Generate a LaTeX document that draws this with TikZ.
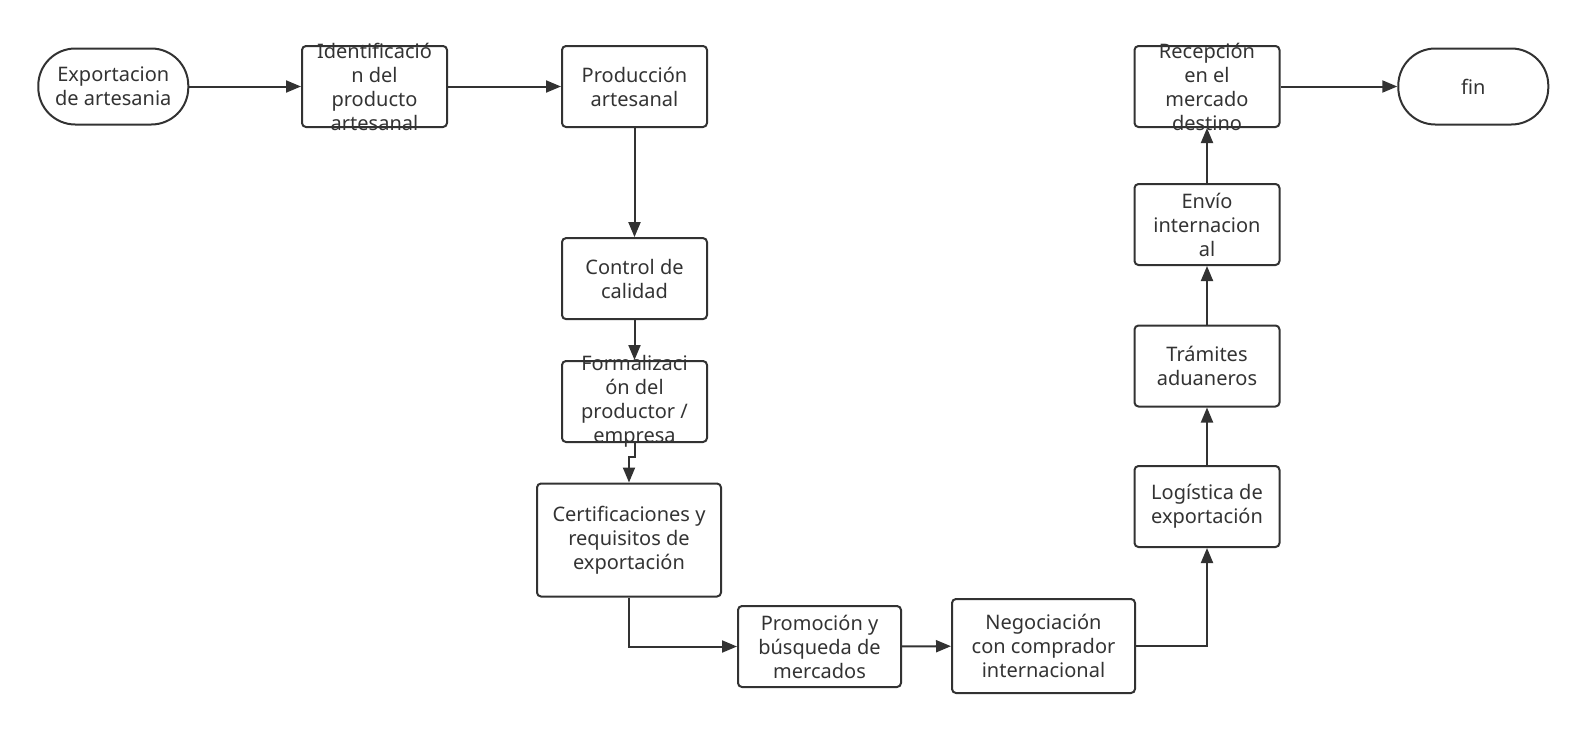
\documentclass[tikz,border=0pt]{standalone}
\usepackage{fontspec}
\setmainfont{Noto Sans}
\usepackage{xcolor}
\definecolor{flowLine}{HTML}{323232}
\definecolor{flowText}{HTML}{333333}
\usetikzlibrary{arrows.meta}

\tikzset{
  stepbox/.style={draw=flowLine, line width=1pt, rounded corners=2pt, minimum width=72.5pt, minimum height=40.5pt, inner sep=0pt},
  term/.style={draw=flowLine, line width=1pt, rounded corners=18.5pt, minimum width=75pt, minimum height=38pt, inner sep=0pt},
  txt/.style={align=center, text=flowText, font=\fontsize{10pt}{12pt}\selectfont, inner sep=0pt},
  flow/.style={draw=flowLine, line width=1pt, -{Triangle[length=7.5pt, width=6pt]}}
}

\begin{document}
\begin{tikzpicture}[x=0.5pt, y=-0.5pt]
  \useasboundingbox (0,0) rectangle (1586,729);
  \node[term, label={[txt]center:Exportacion\\de artesania}] (start) at (113.3,86.5) {};
  \node[stepbox, label={[txt]center:Identificació\\n del\\producto\\artesanal}] (ident) at (374.5,86.5) {};
  \node[stepbox, label={[txt]center:Producción\\artesanal}] (prod) at (634.5,86.5) {};
  \node[stepbox, label={[txt]center:Control de\\calidad}] (ctrl) at (634.5,278.6) {};
  \node[stepbox, label={[txt]center:Formalizaci\\ón del\\productor /\\empresa}] (form) at (634.5,401.5) {};
  \node[stepbox, minimum width=92pt, minimum height=56.5pt, label={[txt]center:Certificaciones y\\requisitos de\\exportación}] (cert) at (629,540) {};
  \node[stepbox, minimum width=81.5pt, label={[txt]center:Promoción y\\búsqueda de\\mercados}] (prom) at (819.5,646.5) {};
  \node[stepbox, minimum width=91.5pt, minimum height=47pt, label={[txt]center:Negociación\\con comprador\\internacional}] (neg) at (1043.5,646) {};
  \node[stepbox, label={[txt]center:Logística de\\exportación}] (logi) at (1207,506.5) {};
  \node[stepbox, label={[txt]center:Trámites\\aduaneros}] (tram) at (1207,366) {};
  \node[stepbox, label={[txt]center:Envío\\internacion\\al}] (envio) at (1207,224.5) {};
  \node[stepbox, label={[txt]center:Recepción\\en el\\mercado\\destino}] (recep) at (1207,86.5) {};
  \node[term, label={[txt]center:fin}] (fin) at (1473.3,86.5) {};
  \draw[flow] (start) -- (ident);
  \draw[flow] (ident) -- (prod);
  \draw[flow] (prod) -- (ctrl);
  \draw[flow] (ctrl) -- (form);
  \draw[flow] (form.south) -- ++(0,14) -| (cert.north);
  \draw[flow] (cert.south) |- (prom.west);
  \draw[flow] (prom) -- (neg);
  \draw[flow] (neg.east) -| (logi.south);
  \draw[flow] (logi) -- (tram);
  \draw[flow] (tram) -- (envio);
  \draw[flow] (envio) -- (recep);
  \draw[flow] (recep) -- (fin);
\end{tikzpicture}
\end{document}
